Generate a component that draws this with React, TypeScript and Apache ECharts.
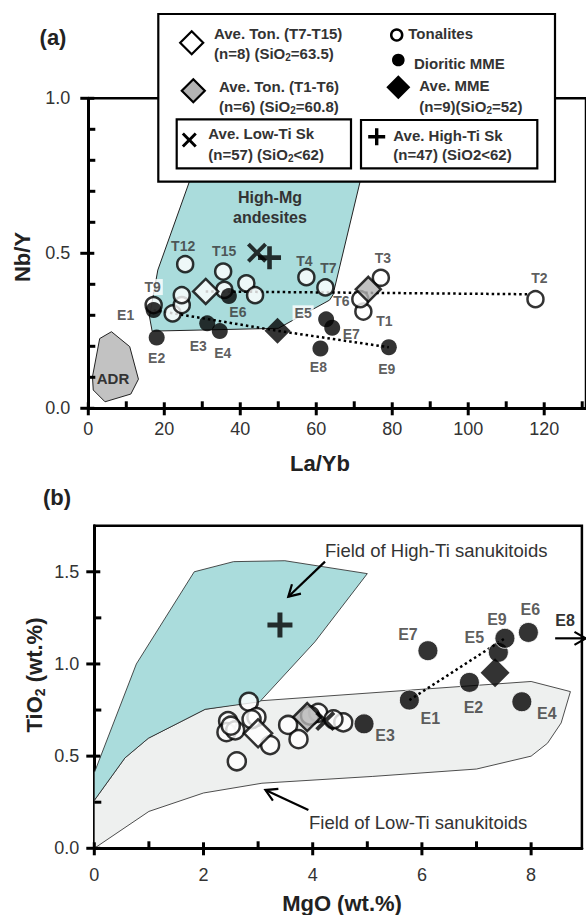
import React, { useEffect, useRef } from "react";
import * as echarts from "echarts";

const FONT = '"Liberation Sans", Arial, Helvetica, sans-serif';
const TXT = "#333";

// ---------- Panel (a): La/Yb vs Nb/Y ----------
const tonalitesA: [string, number, number][] = [
  ["T1", 72.4, 0.312], ["T2", 117.7, 0.352], ["T3", 77.0, 0.421], ["T4", 57.4, 0.423],
  ["T5", 22.2, 0.306], ["T6", 71.6, 0.352], ["T7", 62.4, 0.39], ["T8", 24.6, 0.333],
  ["T9", 17.2, 0.333], ["T10", 24.6, 0.365], ["T11", 35.8, 0.382], ["T12", 25.5, 0.465],
  ["T13", 41.6, 0.403], ["T14", 43.9, 0.365], ["T15", 35.5, 0.441],
];
const mmeA: [string, number, number][] = [
  ["E1", 17.2, 0.317], ["E2", 18.0, 0.228], ["E3", 31.3, 0.274], ["E4", 34.6, 0.249],
  ["E5", 62.6, 0.287], ["E6", 37.0, 0.362], ["E7", 64.2, 0.26], ["E8", 61.1, 0.193],
  ["E9", 79.1, 0.197],
];
const aveTonT7T15A = [30.9, 0.377];
const aveTonT1T6A = [73.7, 0.384];
const aveMmeA = [49.8, 0.25];
const aveLowTiA = [44.4, 0.502];
const aveHighTiA = [47.7, 0.486];
const trendTonA = [[30.9, 0.377], [115.5, 0.368]];
const trendMmeA = [[17.2, 0.317], [49.8, 0.25], [79.1, 0.197]];
const highMgField = [
  [27.3, 0.755], [72.0, 0.755], [64.4, 0.366], [63.5, 0.349], [50.0, 0.258],
  [16.8, 0.249], [16.1, 0.296], [18.3, 0.446],
];
const adrField = [
  [6.1, 0.247], [10.9, 0.199], [13.2, 0.094], [11.2, 0.046], [4.4, 0.021],
  [1.3, 0.059], [1.1, 0.102], [3.0, 0.225],
];
const xTicksMajorA = [0, 20, 40, 60, 80, 100, 120];
const xTicksMinorA = [10, 30, 50, 70, 90, 110, 130];
const yTicksMajorA = [0, 0.5, 1.0];
const yTicksMinorA = [0.1, 0.2, 0.3, 0.4, 0.6, 0.7, 0.8, 0.9];

// ---------- Panel (b): MgO vs TiO2 ----------
const tonalitesB: [string, number, number][] = [
  ["T1", 2.83, 0.795], ["T2", 2.45, 0.69], ["T3", 2.42, 0.63], ["T4", 2.58, 0.64],
  ["T5", 2.97, 0.712], ["T6", 2.88, 0.7], ["T7", 3.22, 0.56], ["T8", 2.61, 0.472],
  ["T9", 3.55, 0.669], ["T10", 3.74, 0.592], ["T11", 4.1, 0.735], ["T12", 4.56, 0.683],
  ["T13", 3.95, 0.72], ["T14", 2.5, 0.665], ["T15", 4.38, 0.7],
];
const mmeB: [string, number, number][] = [
  ["E1", 5.77, 0.804], ["E2", 6.87, 0.9], ["E3", 4.94, 0.675], ["E4", 7.83, 0.795],
  ["E5", 7.4, 1.063], ["E6", 7.95, 1.171], ["E7", 6.11, 1.072], ["E9", 7.52, 1.139],
];
const e8ArrowB = [[8.44, 1.139], [9.0, 1.139]];
const aveTonT7T15B = [3.0, 0.624];
const aveTonT1T6B = [3.9, 0.712];
const aveMmeB = [7.34, 0.952];
const aveLowTiB = [4.23, 0.69];
const aveHighTiB = [3.4, 1.211];
const trendMmeB = [[5.77, 0.804], [7.52, 1.139]];
const highTiField = [
  [0, 0.41], [0.77, 1.0], [1.83, 1.5], [2.55, 1.555], [3.49, 1.56], [5.0, 1.49],
  [4.04, 1.12], [3.03, 0.795], [2.03, 0.754], [0.99, 0.597], [0.56, 0.49], [0, 0.26],
];
const lowTiField = [
  [0, 0], [1.0, 0.2], [2.0, 0.3], [3.07, 0.353], [5.1, 0.39], [7.0, 0.43], [8.0, 0.5],
  [8.3, 0.57], [8.55, 0.68], [8.72, 0.85], [8.0, 0.905], [3.03, 0.8], [2.03, 0.754],
  [0.99, 0.597], [0.56, 0.49], [0, 0.26],
];
const highTiArrow = [[4.225, 1.555], [3.553, 1.365]];
const lowTiArrow = [[3.921, 0.208], [3.134, 0.316]];
const xTicksMajorB = [0, 2, 4, 6, 8];
const xTicksMinorB = [1, 3, 5, 7];
const yTicksMajorB = [0, 0.5, 1.0, 1.5];
const yTicksMinorB = [0.25, 0.75, 1.25];

// label offsets (pixels, relative to the mark)
const labelOffsetA: Record<string, number[]> = {
  T1: [21, 9], T2: [4, -21], T3: [2, -20], T4: [-2, -16], T6: [-19, 2], T7: [3, -19],
  T9: [-1, -18], T12: [-2, -18], T15: [1, -21],
  E1: [-28, 5], E2: [0, 20], E3: [-9, 23], E4: [3, 22], E5: [-23, -6], E6: [9, 16],
  E7: [19, 6], E8: [-2, 19], E9: [-2, 22],
};
const labelOffsetB: Record<string, number[]> = {
  E1: [21, 18], E2: [4, 25], E3: [21, 12], E4: [25, 12], E5: [-24, -15], E6: [2, -23],
  E7: [-20, -16], E9: [-8, -19],
};
const whiteBgLabels = ["T9", "E5"];

const X_PATH = "path://M14,0L50,36L86,0L100,14L64,50L100,86L86,100L50,64L14,100L0,86L36,50L0,14Z";
const PLUS_PATH = "path://M40,0L60,0L60,40L100,40L100,60L60,60L60,100L40,100L40,60L0,60L0,40L40,40Z";

function items(rows: [string, number, number][], offsets: Record<string, number[]>, panel: string) {
  return rows.map(([n, x, y]) => {
    const off = offsets[n];
    const bg = panel === "a" && whiteBgLabels.includes(n);
    return {
      name: n,
      value: [x, y],
      label: off
        ? { show: true, offset: off, ...(bg ? { backgroundColor: "#fff", padding: [1, 2] } : {}) }
        : { show: false },
    };
  });
}

function polygonSeries(points: number[][], gi: number, fill: string, lw: number, z: number) {
  return {
    type: "custom",
    xAxisIndex: gi,
    yAxisIndex: gi,
    z,
    silent: true,
    data: [[0, 0]],
    renderItem: (_p: any, api: any) => ({
      type: "polygon",
      shape: { points: points.map((p) => api.coord(p)) },
      style: { fill, stroke: "#222", lineWidth: lw },
    }),
  };
}

function arrowSeries(seg: number[][], label: string | null, z: number) {
  return {
    type: "custom",
    xAxisIndex: 1,
    yAxisIndex: 1,
    z,
    silent: true,
    clip: false,
    data: [[0, 0]],
    renderItem: (_p: any, api: any) => {
      const p0 = api.coord(seg[0]);
      const p1 = api.coord(seg[1]);
      const dx = p0[0] - p1[0];
      const dy = p0[1] - p1[1];
      const L = Math.hypot(dx, dy);
      const bx = dx / L, by = dy / L;
      const h = 13, c = Math.cos(Math.PI / 6), s = Math.sin(Math.PI / 6);
      const w1 = [p1[0] + h * (bx * c - by * s), p1[1] + h * (bx * s + by * c)];
      const w2 = [p1[0] + h * (bx * c + by * s), p1[1] + h * (-bx * s + by * c)];
      const children: any[] = [
        { type: "line", shape: { x1: p0[0], y1: p0[1], x2: p1[0], y2: p1[1] }, style: { stroke: "#000", lineWidth: 2.2 } },
        { type: "polyline", shape: { points: [w1, p1, w2] }, style: { stroke: "#000", lineWidth: 2.2, fill: null } },
      ];
      if (label) {
        children.push({
          type: "text",
          x: p0[0] + 10,
          y: p0[1] - 18,
          style: { text: label, fontSize: 16, fontWeight: "bold", fontFamily: FONT, fill: TXT, align: "center", verticalAlign: "middle" },
        });
      }
      return { type: "group", children };
    },
  };
}

const circleStyle = { color: "#fff", borderColor: "#000", borderWidth: 2.5 };

function labelCfg(size: number) {
  return {
    show: true,
    position: "inside",
    formatter: (p: any) => p.name,
    fontSize: size,
    fontWeight: "bold",
    color: TXT,
    fontFamily: FONT,
  };
}

function aveSeries(gi: number, pts: { t7: number[]; t1: number[]; mme: number[]; low: number[]; high: number[] }, big: boolean) {
  const d = big ? 28 : 25;
  return [
    { type: "scatter", xAxisIndex: gi, yAxisIndex: gi, z: 6, silent: true, symbol: "diamond", symbolSize: [d, d], itemStyle: { color: "#fff", borderColor: "#000", borderWidth: 2.5 }, data: [pts.t7] },
    { type: "scatter", xAxisIndex: gi, yAxisIndex: gi, z: 6, silent: true, symbol: "diamond", symbolSize: [d, d], itemStyle: { color: "#b3b3b3", borderColor: "#000", borderWidth: 2.5 }, data: [pts.t1] },
    { type: "scatter", xAxisIndex: gi, yAxisIndex: gi, z: 6, silent: true, symbol: "diamond", symbolSize: [d + 1, d + 1], itemStyle: { color: "#000" }, data: [pts.mme] },
    { type: "scatter", xAxisIndex: gi, yAxisIndex: gi, z: 7, silent: true, symbol: X_PATH, symbolSize: 20, itemStyle: { color: "#000" }, data: [pts.low] },
    { type: "scatter", xAxisIndex: gi, yAxisIndex: gi, z: 7, silent: true, symbol: PLUS_PATH, symbolSize: big ? 25 : 23, itemStyle: { color: "#000" }, data: [pts.high] },
  ];
}

function axisCfg(gi: number, min: number, max: number, interval: number, margin: number, showMax: boolean, fmt?: (v: number) => string) {
  return {
    type: "value",
    gridIndex: gi,
    min,
    max,
    interval,
    axisLine: { show: true, onZero: false, lineStyle: { color: "#000", width: 3 } },
    axisTick: { show: false },
    axisLabel: { show: true, fontSize: 18, color: TXT, fontFamily: FONT, margin, showMaxLabel: showMax, formatter: fmt },
    splitLine: { show: false },
  };
}

function legendDiamond(cx: number, cy: number, h: number, fill: string) {
  return {
    type: "polygon",
    z: 101,
    shape: { points: [[cx, cy - h], [cx + h, cy], [cx, cy + h], [cx - h, cy]] },
    style: { fill, stroke: "#000", lineWidth: fill === "#000" ? 0 : 2.2 },
  };
}
function ltext(x: number, y: number, text: string, rich = false) {
  const base: any = {
    type: "text",
    z: 101,
    x,
    y,
    style: {
      text,
      fontSize: 15,
      fontWeight: "bold",
      fontFamily: FONT,
      fill: TXT,
      align: "left",
      verticalAlign: "middle",
    },
  };
  if (rich) {
    base.style.rich = {
      b: { fontSize: 15, fontWeight: "bold", fontFamily: FONT, fill: TXT, lineHeight: 18 },
      s: { fontSize: 10, fontWeight: "bold", fontFamily: FONT, fill: TXT, lineHeight: 10, verticalAlign: "bottom" },
    };
  }
  return base;
}
function bigText(x: number, y: number, text: string, opts: any = {}) {
  return {
    type: "text",
    z: 50,
    x,
    y,
    rotation: opts.rotation || 0,
    style: {
      text,
      fontSize: opts.size || 22,
      fontWeight: opts.weight || "bold",
      fontFamily: FONT,
      fill: opts.color || "#222",
      align: opts.align || "center",
      verticalAlign: "middle",
      lineHeight: opts.lineHeight,
      rich: opts.rich,
    },
  };
}

function xShape(cx: number, cy: number, size: number) {
  const u = size / 100;
  const pts = [[14, 0], [50, 36], [86, 0], [100, 14], [64, 50], [100, 86], [86, 100], [50, 64], [14, 100], [0, 86], [36, 50], [0, 14]];
  return { type: "polygon", z: 101, shape: { points: pts.map(([a, b]) => [cx - size / 2 + a * u, cy - size / 2 + b * u]) }, style: { fill: "#000" } };
}
function plusShape(cx: number, cy: number, size: number) {
  const u = size / 100;
  const pts = [[40, 0], [60, 0], [60, 40], [100, 40], [100, 60], [60, 60], [60, 100], [40, 100], [40, 60], [0, 60], [0, 40], [40, 40]];
  return { type: "polygon", z: 101, shape: { points: pts.map(([a, b]) => [cx - size / 2 + a * u, cy - size / 2 + b * u]) }, style: { fill: "#000" } };
}

// tick marks positioned with the chart's own scales (convertToPixel)
function tickGraphics(chart: any, gi: number, xMaj: number[], xMin: number[], yMaj: number[], yMin: number[]) {
  const out: any[] = [];
  const seg = (x1: number, y1: number, x2: number, y2: number) =>
    out.push({ type: "line", z: 90, silent: true, shape: { x1, y1, x2, y2 }, style: { stroke: "#000", lineWidth: 3 } });
  const px = (v: number[]) => chart.convertToPixel({ gridIndex: gi }, v);
  xMaj.forEach((v) => { const p = px([v, 0]); seg(p[0], p[1] - 6, p[0], p[1] + 7); });
  xMin.forEach((v) => { const p = px([v, 0]); seg(p[0], p[1] - 7, p[0], p[1]); });
  yMaj.forEach((v) => { const p = px([0, v]); seg(p[0] - 8, p[1], p[0] + 6, p[1]); });
  yMin.forEach((v) => { const p = px([0, v]); seg(p[0], p[1], p[0] + 7, p[1]); });
  return out;
}

export default function App() {
  const ref = useRef<HTMLDivElement>(null);
  useEffect(() => {
    if (!ref.current) return;
    const chart = echarts.init(ref.current, null, { renderer: "svg" });
    const sub = {
      b: { fontSize: 22, fontWeight: "bold", fontFamily: FONT, fill: "#222", lineHeight: 26 },
      s: { fontSize: 14, fontWeight: "bold", fontFamily: FONT, fill: "#222", lineHeight: 14, verticalAlign: "bottom" },
    };
    const baseGraphics: any[] = [
      bigText(53, 37, "(a)"),
      bigText(57, 497, "(b)"),
      bigText(320, 463, "La/Yb"),
      bigText(342, 903, "MgO (wt.%)"),
      bigText(22, 257, "Nb/Y", { rotation: Math.PI / 2 }),
      bigText(34, 675, "{b|TiO}{s|2}{b| (wt.%)}", { rotation: Math.PI / 2, rich: sub }),
      bigText(270, 207, "High-Mg\nandesites", { size: 16, color: TXT, lineHeight: 20 }),
      bigText(113, 378, "ADR", { size: 15, color: TXT }),
      bigText(325, 550, "Field of High-Ti sanukitoids", { size: 18.5, weight: "normal", color: TXT, align: "left" }),
      bigText(309, 822, "Field of Low-Ti sanukitoids", { size: 18.5, weight: "normal", color: TXT, align: "left" }),
      // legend box
      { type: "rect", z: 100, shape: { x: 158.3, y: 14, width: 396.7, height: 167.7 }, style: { fill: "#fff", stroke: "#000", lineWidth: 2.2 } },
      { type: "rect", z: 101, shape: { x: 176.7, y: 119.3, width: 174.3, height: 49 }, style: { fill: "#fff", stroke: "#000", lineWidth: 2.2 } },
      { type: "rect", z: 101, shape: { x: 361, y: 120, width: 176.3, height: 48.3 }, style: { fill: "#fff", stroke: "#000", lineWidth: 2.2 } },
      legendDiamond(191.7, 42.7, 11.5, "#fff"),
      legendDiamond(193.3, 90.7, 11.5, "#b3b3b3"),
      legendDiamond(398.3, 87.3, 12, "#000"),
      { type: "circle", z: 101, shape: { cx: 396.7, cy: 35, r: 5.5 }, style: { fill: "#fff", stroke: "#000", lineWidth: 2.5 } },
      { type: "circle", z: 101, shape: { cx: 398.3, cy: 60, r: 6.3 }, style: { fill: "#000" } },
      xShape(189.3, 140, 15),
      plusShape(376.7, 136.7, 17),
      ltext(214, 33.3, "Ave. Ton. (T7-T15)"),
      ltext(214, 53.3, "{b|(n=8) (SiO}{s|2}{b|=63.5)}", true),
      ltext(219, 86, "Ave. Ton. (T1-T6)"),
      ltext(219, 106, "{b|(n=6) (SiO}{s|2}{b|=60.8)}", true),
      ltext(408.3, 33.3, "Tonalites"),
      ltext(414, 63.3, "Dioritic MME"),
      ltext(419.3, 85, "Ave. MME"),
      ltext(419.3, 106, "{b|(n=9)(SiO}{s|2}{b|=52)}", true),
      ltext(208.3, 133.3, "Ave. Low-Ti Sk"),
      ltext(208.3, 154, "{b|(n=57) (SiO}{s|2}{b|<62)}", true),
      ltext(393.3, 135, "Ave. High-Ti Sk"),
      ltext(393.3, 154, "(n=47) (SiO2<62)"),
    ];
    const option: any = {
      animation: false,
      backgroundColor: "#fff",
      grid: [
        { left: 88.3, top: 98.3, width: 502.2, height: 310, show: true, borderColor: "#000", borderWidth: 2.5, backgroundColor: "transparent" },
        { left: 94.3, top: 525.7, width: 487.6, height: 322.6, show: true, borderColor: "#000", borderWidth: 2.5, backgroundColor: "transparent" },
      ],
      xAxis: [
        axisCfg(0, 0, 131, 20, 12, false),
        axisCfg(1, 0, 8.93, 2, 18, false),
      ],
      yAxis: [
        axisCfg(0, 0, 1, 0.5, 18, true, (v: number) => v.toFixed(1)),
        axisCfg(1, 0, 1.75, 0.5, 15, false, (v: number) => v.toFixed(1)),
      ],
      series: [
        // panel a
        polygonSeries(highMgField, 0, "#aadcdc", 1, 1),
        polygonSeries(adrField, 0, "#c2c2c2", 1, 1),
        { type: "line", xAxisIndex: 0, yAxisIndex: 0, z: 2, silent: true, symbol: "none", data: trendTonA, lineStyle: { color: "#000", width: 2.5, type: [2.5, 3] } },
        { type: "line", xAxisIndex: 0, yAxisIndex: 0, z: 2, silent: true, symbol: "none", data: trendMmeA, lineStyle: { color: "#000", width: 2.5, type: [2.5, 3] } },
        { type: "scatter", xAxisIndex: 0, yAxisIndex: 0, z: 3, silent: true, symbol: "circle", symbolSize: 16, itemStyle: circleStyle, label: labelCfg(14), data: items(tonalitesA, labelOffsetA, "a") },
        { type: "scatter", xAxisIndex: 0, yAxisIndex: 0, z: 4, silent: true, symbol: "circle", symbolSize: 16, itemStyle: { color: "#000" }, label: labelCfg(14), data: items(mmeA, labelOffsetA, "a") },
        ...aveSeries(0, { t7: aveTonT7T15A, t1: aveTonT1T6A, mme: aveMmeA, low: aveLowTiA, high: aveHighTiA }, false),
        // panel b
        polygonSeries(lowTiField, 1, "#eef0ef", 0.8, 1),
        polygonSeries(highTiField, 1, "#aadcdc", 0.8, 1),
        { type: "line", xAxisIndex: 1, yAxisIndex: 1, z: 2, silent: true, symbol: "none", data: trendMmeB, lineStyle: { color: "#000", width: 2.5, type: [2.5, 3] } },
        { type: "scatter", xAxisIndex: 1, yAxisIndex: 1, z: 3, silent: true, symbol: "circle", symbolSize: 18, itemStyle: circleStyle, data: items(tonalitesB, {}, "b") },
        { type: "scatter", xAxisIndex: 1, yAxisIndex: 1, z: 4, silent: true, symbol: "circle", symbolSize: 20, itemStyle: { color: "#000", borderColor: "#fff", borderWidth: 1 }, label: labelCfg(16), data: items(mmeB, labelOffsetB, "b") },
        ...aveSeries(1, { t7: aveTonT7T15B, t1: aveTonT1T6B, mme: aveMmeB, low: aveLowTiB, high: aveHighTiB }, true),
        arrowSeries(e8ArrowB, "E8", 8),
        arrowSeries(highTiArrow, null, 8),
        arrowSeries(lowTiArrow, null, 8),
      ],
      graphic: baseGraphics,
    };
    chart.setOption(option);
    const ticks = [
      ...tickGraphics(chart, 0, xTicksMajorA, xTicksMinorA, yTicksMajorA, yTicksMinorA),
      ...tickGraphics(chart, 1, xTicksMajorB, xTicksMinorB, yTicksMajorB, yTicksMinorB),
    ];
    chart.setOption({ graphic: [...baseGraphics, ...ticks] });
    return () => chart.dispose();
  }, []);
  return <div ref={ref} style={{ position: "fixed", left: 0, top: 0, width: 586, height: 915, background: "#fff" }} />;
}
